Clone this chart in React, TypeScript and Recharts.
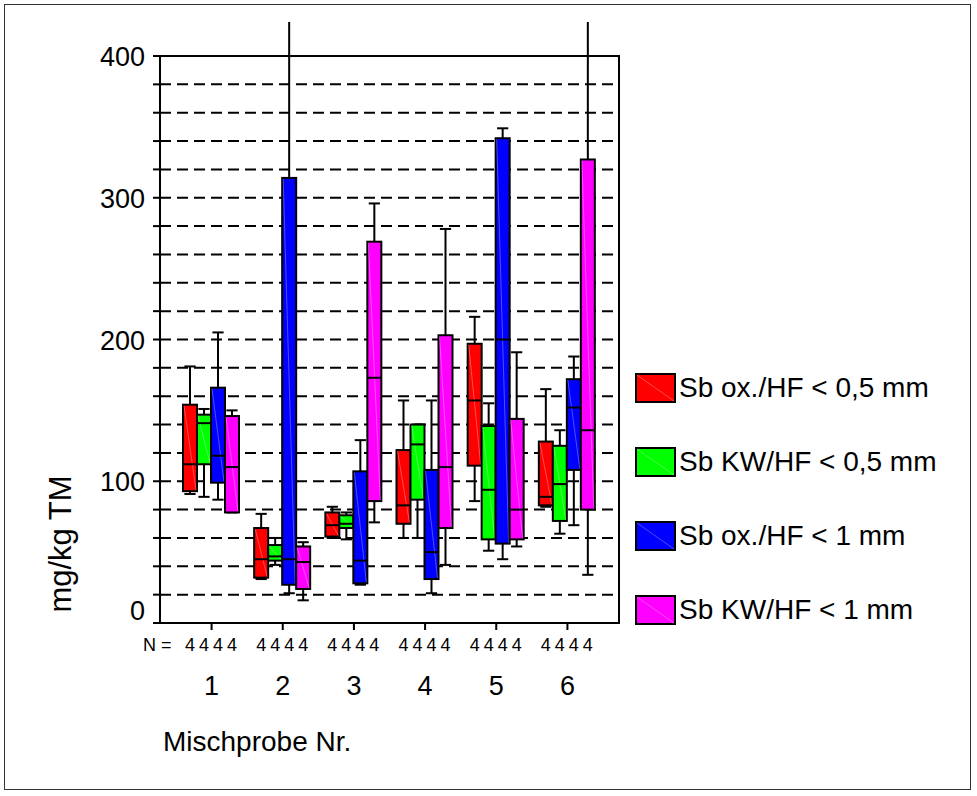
import React from "react";
import {
  ComposedChart,
  Bar,
  XAxis,
  YAxis,
  CartesianGrid,
  ReferenceArea,
  Legend
} from "recharts";

const groups = ["1", "2", "3", "4", "5", "6"];
const seriesNames = [
  "Sb ox./HF < 0,5 mm",
  "Sb KW/HF < 0,5 mm",
  "Sb ox./HF < 1 mm",
  "Sb KW/HF < 1 mm"
];
const seriesColors = ["#ff0000", "#00ff00", "#0000ff", "#ff00ff"];

// [min, q1, median, q3, max] per Mischprobe
const oxFine = [
  [91, 93, 112, 154, 181],
  [31, 32, 45, 67, 77],
  [60, 61, 69, 78, 82],
  [60, 70, 83, 122, 157],
  [86, 111, 157, 197, 216],
  [82, 83, 89, 128, 165]
];
const kwFine = [
  [89, 112, 141, 147, 151],
  [41, 44, 47, 55, 60],
  [59, 67, 70, 76, 78],
  [60, 87, 126, 140, 140],
  [51, 59, 94, 139, 155],
  [63, 72, 98, 125, 136]
];
const oxCoarse = [
  [87, 99, 118, 166, 205],
  [21, 27, 45, 314, 424],
  [27, 28, 44, 107, 129],
  [21, 31, 50, 108, 157],
  [45, 56, 200, 342, 349],
  [69, 108, 152, 172, 188]
];
const kwCoarse = [
  [78, 78, 110, 146, 150],
  [16, 24, 43, 54, 57],
  [71, 86, 173, 269, 296],
  [41, 67, 110, 203, 278],
  [54, 59, 80, 144, 191],
  [34, 80, 136, 327, 424]
];
const nCounts = [
  [4, 4, 4, 4, 4, 4],
  [4, 4, 4, 4, 4, 4],
  [4, 4, 4, 4, 4, 4],
  [4, 4, 4, 4, 4, 4]
];

const yTicks = [0, 20, 40, 60, 80, 100, 120, 140, 160, 180, 200, 220, 240, 260, 280, 300, 320, 340, 360, 380, 400];
const yLabels = [0, 100, 200, 300, 400];
const gridValues = [20, 40, 60, 80, 100, 120, 140, 160, 180, 200, 220, 240, 260, 280, 300, 320, 340, 360, 380];
const yTop = 424;
const frameTop = 400;
const xPad = 16;

const boxSeries = [oxFine, kwFine, oxCoarse, kwCoarse];

const rows = groups.map((g, i) => {
  const row: any = { group: g };
  boxSeries.forEach((s, k) => {
    row[`r${k}`] = [s[i][0], s[i][4]];
    row[`b${k}`] = s[i];
    row[`n${k}`] = nCounts[k][i];
  });
  return row;
});

const FONT = "'Liberation Sans', Arial, sans-serif";

const makeBox = (k: number) => (props: any) => {
  const { x, y, width, height, payload } = props;
  const [mn, q1, md, q3, mx] = payload[`b${k}`];
  const top = Math.min(y, y + height);
  const bottom = Math.max(y, y + height);
  const ppu = (bottom - top) / (mx - mn);
  const toY = (v: number) => bottom - (v - mn) * ppu;
  const cx = x + width / 2;
  const cap = width * 0.4;
  const yq1 = toY(q1);
  const yq3 = toY(q3);
  const ymd = toY(md);
  const zeroY = toY(0);
  return (
    <g>
      <line x1={cx} x2={cx} y1={top} y2={yq3} stroke="#000" strokeWidth={2} />
      <line x1={cx} x2={cx} y1={yq1} y2={bottom} stroke="#000" strokeWidth={2} />
      {mx < frameTop && (
        <line x1={cx - cap} x2={cx + cap} y1={top} y2={top} stroke="#000" strokeWidth={2} />
      )}
      <line x1={cx - cap} x2={cx + cap} y1={bottom} y2={bottom} stroke="#000" strokeWidth={2} />
      <rect
        x={x}
        y={yq3}
        width={width}
        height={Math.max(yq1 - yq3, 1)}
        fill={seriesColors[k]}
        stroke="#000"
        strokeWidth={2}
      />
      <line
        x1={x + 1}
        y1={yq3 + 1}
        x2={x + width - 1}
        y2={yq1 - 1}
        stroke="#ffffff"
        strokeOpacity={0.3}
        strokeWidth={1}
      />
      <line x1={x} x2={x + width} y1={ymd} y2={ymd} stroke="#000" strokeWidth={2} />
      <text
        x={cx}
        y={zeroY + 28}
        textAnchor="middle"
        fontSize={18}
        fontFamily={FONT}
        fill="#000"
      >
        {payload[`n${k}`]}
      </text>
    </g>
  );
};

const YTick = (props: any) => {
  const { x, y, payload } = props;
  if (!yLabels.includes(payload.value)) return null;
  const dy = payload.value === 0 ? -3 : 10;
  return (
    <text x={x} y={y} dy={dy} textAnchor="end" fontSize={27} fontFamily={FONT} fill="#000">
      {payload.value}
    </text>
  );
};

const XTick = (props: any) => {
  const { x, y, payload, index } = props;
  return (
    <g>
      <text x={x} y={y} dy={63} textAnchor="middle" fontSize={27} fontFamily={FONT} fill="#000">
        {payload.value}
      </text>
      {index === 0 && (
        <text x={x - 40} y={y} dy={19} textAnchor="end" fontSize={18} fontFamily={FONT} fill="#000">
          N =
        </text>
      )}
    </g>
  );
};

// frame around the plot: band range of the category axis plus its padding
const FrameShape = (p: any) => (
  <rect
    x={p.x - xPad}
    y={p.y}
    width={p.width + 2 * xPad}
    height={p.height}
    fill="none"
    stroke="#000"
    strokeWidth={2}
  />
);

const LegendBox = (props: any) => {
  const items = [...(props.payload || [])].sort(
    (a: any, b: any) => seriesNames.indexOf(a.value) - seriesNames.indexOf(b.value)
  );
  return (
    <div style={{ fontFamily: FONT }}>
      {items.map((p: any) => {
        const idx = seriesNames.indexOf(p.value);
        return (
          <div
            key={p.value}
            style={{ display: "flex", alignItems: "center", height: 30, marginBottom: 44 }}
          >
            <svg width={41} height={30} style={{ display: "block" }}>
              <rect x={1} y={1} width={39} height={28} fill={seriesColors[idx]} stroke="#000" strokeWidth={2} />
              <line x1={2} y1={2} x2={39} y2={28} stroke="#fff" strokeOpacity={0.3} strokeWidth={1} />
            </svg>
            <span style={{ marginLeft: 3, fontSize: 28, color: "#000", whiteSpace: "nowrap" }}>
              {p.value}
            </span>
          </div>
        );
      })}
    </div>
  );
};

export default function App() {
  return (
    <div style={{ position: "relative", width: 977, height: 796, background: "#fff" }}>
      <style>{`body{margin:0;}`}</style>
      <div
        style={{
          position: "absolute",
          left: 4,
          top: 4,
          width: 967,
          height: 786,
          border: "1px solid #333",
          boxSizing: "border-box"
        }}
      />
      <ComposedChart
        width={977}
        height={796}
        data={rows}
        margin={{ top: 22, right: 358, left: 100, bottom: 73 }}
        barCategoryGap={7}
        barGap={0}
        style={{ fontFamily: FONT }}
      >
        <CartesianGrid
          vertical={false}
          horizontalValues={gridValues}
          stroke="#000"
          strokeWidth={2}
          strokeDasharray="11 6"
        />
        <XAxis
          dataKey="group"
          type="category"
          padding={{ left: xPad, right: xPad }}
          axisLine={false}
          tickLine={{ stroke: "#000", strokeWidth: 2 }}
          tickSize={7}
          tickMargin={2}
          height={100}
          tick={<XTick />}
          interval={0}
          label={{
            content: (lp: any) => {
              const vb = lp.viewBox || { x: 160, y: 623 };
              return (
                <text x={vb.x + 3} y={vb.y + 128} fontSize={28} fontFamily={FONT} fill="#000">
                  Mischprobe Nr.
                </text>
              );
            }
          }}
        />
        <YAxis
          type="number"
          domain={[0, yTop]}
          ticks={yTicks}
          interval={0}
          width={60}
          axisLine={false}
          tickLine={{ stroke: "#000", strokeWidth: 2 }}
          tickSize={7}
          tickMargin={8}
          tick={<YTick />}
          label={{
            content: () => (
              <text
                x={61}
                y={544}
                transform="rotate(-90, 61, 544)"
                textAnchor="middle"
                dy={10}
                fontSize={31}
                fontFamily={FONT}
                fill="#000"
              >
                mg/kg TM
              </text>
            )
          }}
        />
        <ReferenceArea
          x1={groups[0]}
          x2={groups[groups.length - 1]}
          y1={0}
          y2={frameTop}
          shape={<FrameShape />}
          ifOverflow="visible"
        />
        {seriesNames.map((name, k) => (
          <Bar
            key={name}
            name={name}
            dataKey={(row: any) => row[`r${k}`]}
            fill={seriesColors[k]}
            shape={makeBox(k)}
            isAnimationActive={false}
          />
        ))}
        <Legend
          layout="vertical"
          align="center"
          verticalAlign="middle"
          content={<LegendBox />}
          wrapperStyle={{ left: 635, top: 373, width: 340 }}
        />
      </ComposedChart>
    </div>
  );
}
